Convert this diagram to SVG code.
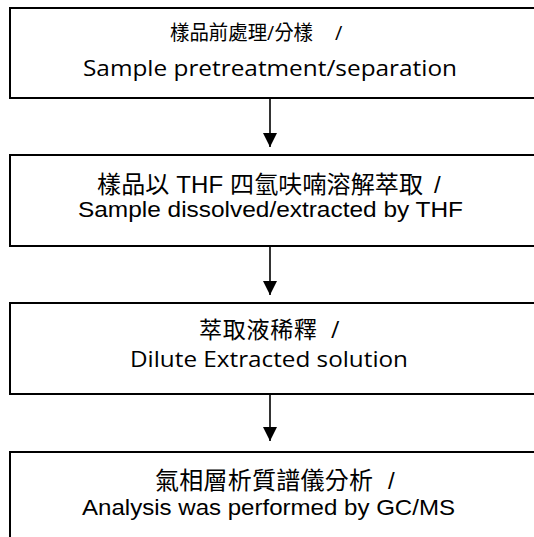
<svg xmlns="http://www.w3.org/2000/svg" width="534" height="537" viewBox="0 0 534 537">
<defs>
<marker id="ah" markerWidth="14" markerHeight="14" refX="14" refY="7" orient="auto" markerUnits="userSpaceOnUse" viewBox="0 0 14 14">
<path d="M0,0 L14,7 L0,14 Z" fill="#000"/>
</marker>
</defs>
<style>
.box{fill:#fff;stroke:#000;stroke-width:2}
.seg{font-family:"Open Sans","Noto Sans CJK TC",sans-serif;fill:#000}
.ari{font-family:"Liberation Sans","Noto Sans CJK TC",sans-serif;fill:#000}
.en{font-size:22px}
.zh{font-size:24px}
.zhs{font-size:20px}
.con{stroke:#000;stroke-width:1.6;fill:none}
</style>
<rect width="534" height="537" fill="#fff"/>
<g id="connectors">
<line class="con" x1="270" y1="99" x2="270" y2="147" marker-end="url(#ah)"/>
<line class="con" x1="270" y1="246" x2="270" y2="295" marker-end="url(#ah)"/>
<line class="con" x1="270" y1="395" x2="270" y2="441" marker-end="url(#ah)"/>
</g>
<g id="node1">
<rect class="box" x="10" y="8" width="540" height="90"/>
<text class="seg zhs" x="170" y="40" textLength="143" lengthAdjust="spacingAndGlyphs">樣品前處理/分樣</text>
<text class="seg zhs" x="335" y="40">/</text>
<text class="seg en" x="83" y="76" textLength="374" lengthAdjust="spacingAndGlyphs">Sample pretreatment/separation</text>
</g>
<g id="node2">
<rect class="box" x="10" y="155" width="540" height="91"/>
<text class="ari zh" x="97" y="193" textLength="326" lengthAdjust="spacing">樣品以 THF 四氫呋喃溶解萃取</text>
<text class="ari zh" x="434" y="193">/</text>
<text class="ari en" x="78" y="217" textLength="385" lengthAdjust="spacingAndGlyphs">Sample dissolved/extracted by THF</text>
</g>
<g id="node3">
<rect class="box" x="10" y="303" width="540" height="91"/>
<text class="seg" x="199" y="338" style="font-size:23px" textLength="118" lengthAdjust="spacing">萃取液稀釋</text>
<text class="seg" x="331" y="338" style="font-size:23px">/</text>
<text class="seg en" x="130" y="367" textLength="278" lengthAdjust="spacingAndGlyphs">Dilute Extracted solution</text>
</g>
<g id="node4">
<rect class="box" x="10" y="452" width="540" height="100"/>
<text class="ari zh" x="155" y="489" textLength="218" lengthAdjust="spacing">氣相層析質譜儀分析</text>
<text class="ari zh" x="388" y="489">/</text>
<text class="ari en" x="82" y="515" textLength="373" lengthAdjust="spacingAndGlyphs">Analysis was performed by GC/MS</text>
</g>
</svg>
